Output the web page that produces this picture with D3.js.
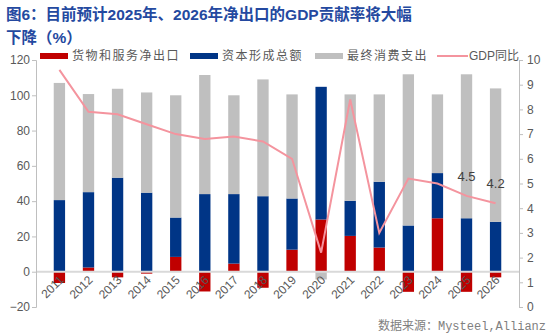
<!DOCTYPE html>
<html>
<head>
<meta charset="utf-8">
<script src="https://cdn.jsdelivr.net/npm/d3@7"></script>
<style>
 body { margin: 0; background: #fff; }
 text { font-family: Arial, "Liberation Sans", "Noto Sans CJK SC", sans-serif; }
</style>
</head>
<body>
<div id="chart"></div>
<script>
 // data
 var years = ["2011", "2012", "2013", "2014", "2015", "2016", "2017", "2018",
              "2019", "2020", "2021", "2022", "2023", "2024", "2025", "2026"];
 var netExports = [-6.4, 2.4, -3.2, -1.1, 8.4, -11.2, 4.6, -9.1, 12.5, 29.6, 20.3, 13.7, -11.4, 30.3, -11.4, -3.2];
 var capital = [40.6, 42.7, 53.3, 44.8, 22.3, 44.0, 39.4, 42.8, 29.0, 75.2, 19.9, 37.3, 26.2, 25.6, 30.3, 28.3];
 var consumption = [66.4, 55.6, 50.4, 56.8, 69.3, 67.5, 56.0, 66.2, 59.0, -4.4, 60.3, 49.5, 85.7, 44.6, 81.6, 75.6];
 var gdp = [9.6, 7.9, 7.8, 7.4, 7.0, 6.8, 6.9, 6.7, 6.0, 2.2, 8.4, 3.0, 5.2, 5.0, 4.5, 4.2];
 var seriesNames = ["货物和服务净出口", "资本形成总额", "最终消费支出", "GDP同比"];
 var leftTicks = [-20, 0, 20, 40, 60, 80, 100, 120];
 var rightTicks = [0, 1, 2, 3, 4, 5, 6, 7, 8, 9, 10];
 var labelled = ["2025", "2026"];

 var width = 550, height = 335;
 var margin = { top: 60, right: 31, bottom: 29, left: 36 };
 var colours = ["#C00000", "#003586", "#BFBFBF"];
 var lineColour = "#F4949E";

 var svg = d3.select("#chart").append("svg")
     .attr("width", width)
     .attr("height", height);

 // title
 var title = svg.append("g").attr("fill", "#2449A0").style("font-weight", "bold").style("font-size", "15.5px");
 title.append("text").attr("x", 6).attr("y", 20).text("图6：目前预计2025年、2026年净出口的GDP贡献率将大幅");
 title.append("text").attr("x", 6).attr("y", 43).text("下降（%）");

 var xScale = d3.scaleBand().domain(years)
     .range([margin.left, width - margin.right]).padding(0.61);
 var yScale = d3.scaleLinear().domain([-20, 120])
     .range([height - margin.bottom + 1, margin.top]);
 var y2Scale = d3.scaleLinear().domain([0, 10])
     .range([height - margin.bottom + 1, margin.top]);

 // stacked data, negatives go below zero
 var rows = years.map(function(y, i) {
     return { year: y, a: netExports[i], b: capital[i], c: consumption[i] };
 });
 var stack = d3.stack().keys(["a", "b", "c"]).offset(d3.stackOffsetDiverging);
 var layers = stack(rows);

 svg.append("g").selectAll("g")
     .data(layers)
     .join("g")
     .attr("fill", function(d, i) { return colours[i]; })
     .selectAll("rect")
     .data(function(d) { return d; })
     .join("rect")
     .attr("x", function(d) { return xScale(d.data.year); })
     .attr("width", xScale.bandwidth())
     .attr("y", function(d) { return yScale(Math.max(d[0], d[1])); })
     .attr("height", function(d) { return Math.abs(yScale(d[0]) - yScale(d[1])); });

 // zero line
 svg.append("line")
     .attr("x1", margin.left).attr("x2", width - margin.right)
     .attr("y1", yScale(0)).attr("y2", yScale(0))
     .attr("stroke", "#D9D9D9").attr("stroke-width", 2);

 // left axis
 var yAxis = svg.append("g")
     .attr("transform", "translate(" + margin.left + ",0)")
     .call(d3.axisLeft(yScale).tickValues(leftTicks).tickSize(4).tickFormat(function(d) {
         return d < 0 ? "\u2212" + Math.abs(d) : d;
     }));
 // right axis
 var y2Axis = svg.append("g")
     .attr("transform", "translate(" + (width - margin.right) + ",0)")
     .call(d3.axisRight(y2Scale).tickValues(rightTicks).tickSize(4));
 [yAxis, y2Axis].forEach(function(ax) {
     ax.select(".domain").attr("stroke", "#BFBFBF");
     ax.selectAll(".tick line").attr("stroke", "#BFBFBF");
     ax.selectAll("text").attr("fill", "#595959").style("font-size", "12px");
 });
 yAxis.selectAll("text").attr("x", -6);
 y2Axis.selectAll("text").attr("x", 8);

 // x labels
 svg.append("g").selectAll("text")
     .data(years)
     .join("text")
     .attr("transform", function(d) {
         return "translate(" + (xScale(d) + xScale.bandwidth() / 2 + 5) + "," + (yScale(0) + 9) + ") rotate(-45)";
     })
     .attr("text-anchor", "end")
     .attr("fill", "#595959")
     .style("font-size", "12px")
     .text(function(d) { return d; });

 // GDP line
 var lineGen = d3.line()
     .x(function(d, i) { return xScale(years[i]) + xScale.bandwidth() / 2; })
     .y(function(d) { return y2Scale(d); });
 svg.append("path")
     .datum(gdp)
     .attr("d", lineGen)
     .attr("fill", "none")
     .attr("stroke", lineColour)
     .attr("stroke-width", 2);

 svg.append("g").selectAll("text")
     .data(labelled)
     .join("text")
     .attr("x", function(d) { return xScale(d) + xScale.bandwidth() / 2; })
     .attr("y", function(d) { return y2Scale(gdp[years.indexOf(d)]) - 15; })
     .attr("text-anchor", "middle")
     .attr("fill", "#404040")
     .style("font-size", "13px")
     .text(function(d) { return gdp[years.indexOf(d)].toFixed(1); });

 // legend
 var legendX = [40, 190, 315, 437];
 var legend = svg.append("g").selectAll("g")
     .data(seriesNames)
     .join("g")
     .attr("transform", function(d, i) { return "translate(" + legendX[i] + ",56)"; });
 legend.append("rect")
     .attr("width", 28).attr("height", 6).attr("y", -3)
     .attr("fill", function(d, i) { return i < 3 ? colours[i] : "none"; });
 legend.filter(function(d, i) { return i === 3; })
     .append("line")
     .attr("x1", 0).attr("x2", 31).attr("y1", 0).attr("y2", 0)
     .attr("stroke", lineColour).attr("stroke-width", 2);
 legend.append("text")
     .attr("x", 32)
     .attr("dy", "0.35em")
     .attr("fill", "#595959")
     .style("font-size", "12px")
     .style("letter-spacing", function(d, i) { return i === 3 ? "0px" : "1.5px"; })
     .text(function(d) { return d; });

 // source
 svg.append("text")
     .attr("x", 546).attr("y", 330)
     .attr("text-anchor", "end")
     .attr("fill", "#808080")
     .style("font-family", "'Liberation Mono', 'Noto Sans CJK SC', monospace")
     .style("font-size", "12px")
     .text("数据来源：Mysteel,Allianz");
</script>
</body>
</html>
